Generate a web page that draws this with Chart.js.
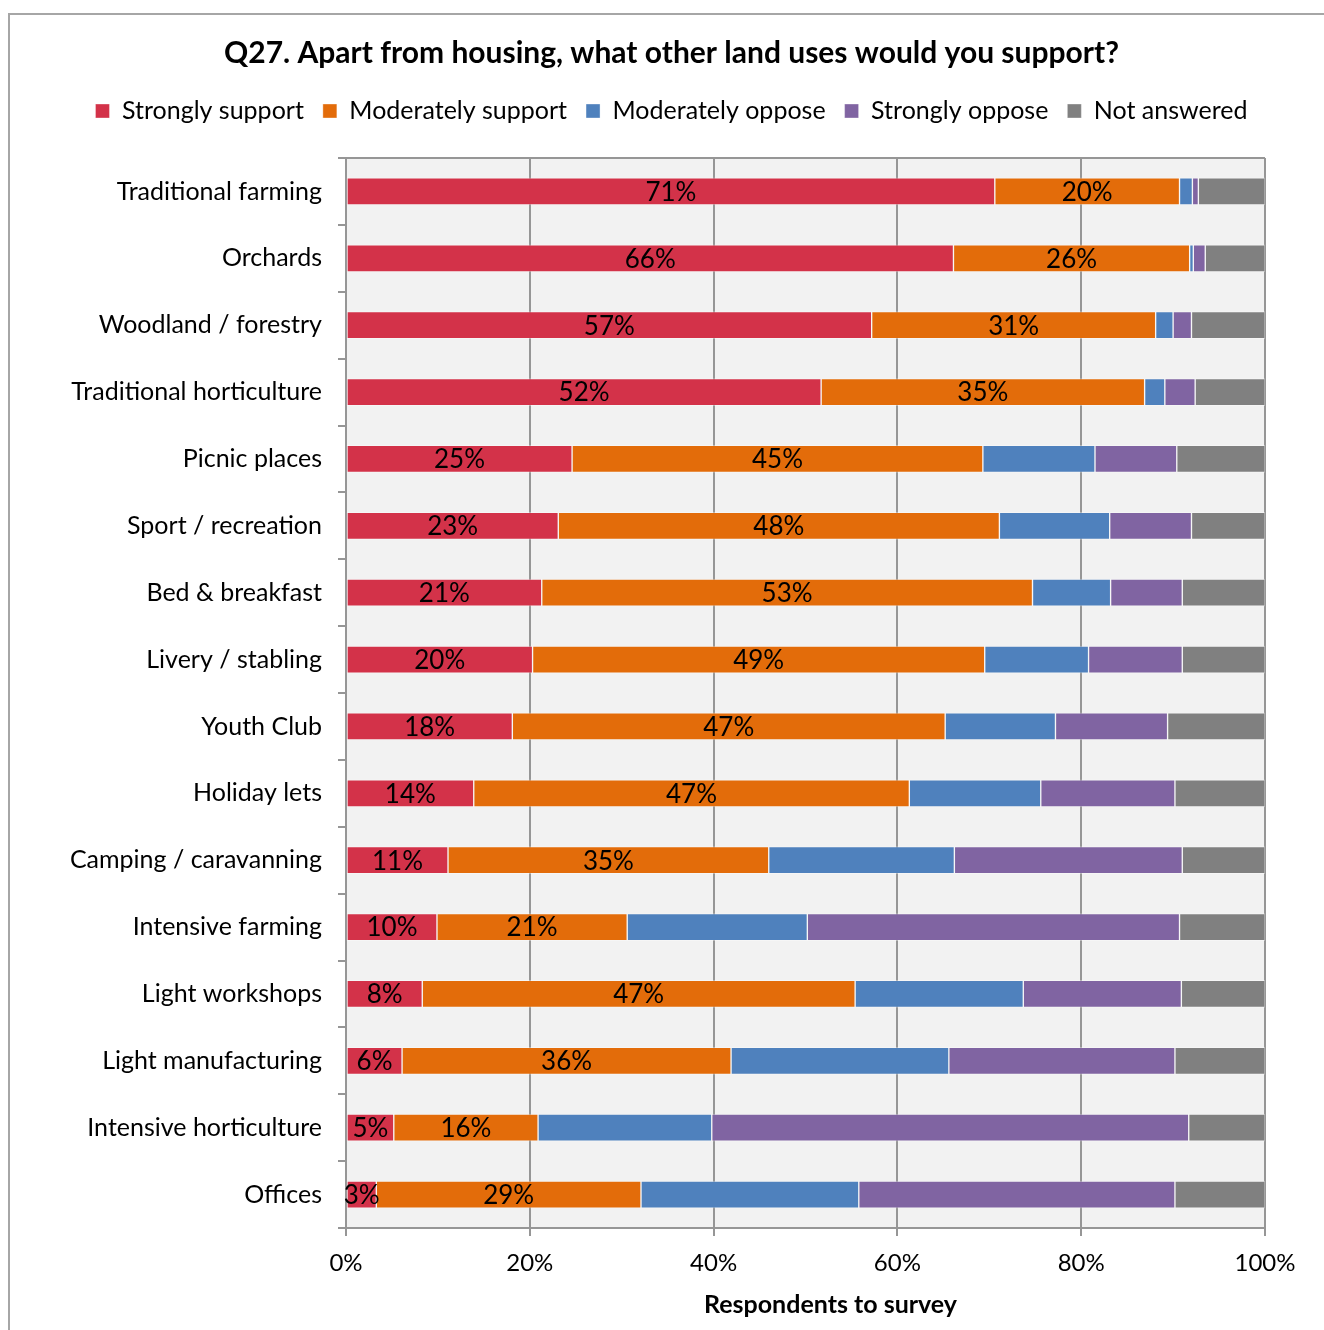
<!DOCTYPE html>
<html><head><meta charset="utf-8">
<script src="https://cdn.jsdelivr.net/npm/chart.js@4"></script>
<style>
html,body{margin:0;padding:0;background:#fff;overflow:hidden;width:1324px;height:1330px;}
#frame{position:absolute;left:8px;top:13px;width:1400px;height:1400px;border-left:2px solid #a6a6a6;border-top:2px solid #a6a6a6;box-sizing:border-box;}
#wrap{position:absolute;left:0;top:0;width:1340px;height:1330px;}
</style></head>
<body>
<div id="frame"></div>
<div id="wrap"><canvas id="c" width="1340" height="1330"></canvas></div>
<script>
const categories = ["Traditional farming","Orchards","Woodland / forestry","Traditional horticulture","Picnic places","Sport / recreation","Bed & breakfast","Livery / stabling","Youth Club","Holiday lets","Camping / caravanning","Intensive farming","Light workshops","Light manufacturing","Intensive horticulture","Offices"];
const seriesNames = ["Strongly support","Moderately support","Moderately oppose","Strongly oppose","Not answered"];
const stronglySupport   = [70.6,66.1,57.2,51.7,24.6,23.1,21.3,20.3,18.1,13.9,11.1,9.9,8.3,6.1,5.2,3.3];
const moderatelySupport = [20.1,25.7,30.9,35.2,44.7,48.0,53.4,49.2,47.1,47.4,34.9,20.7,47.1,35.8,15.7,28.8];
const moderatelyOppose  = [1.4,0.4,1.9,2.2,12.2,12.0,8.5,11.3,12.0,14.3,20.2,19.6,18.3,23.7,18.9,23.7];
const stronglyOppose    = [0.65,1.3,2.0,3.3,8.9,8.9,7.8,10.2,12.2,14.6,24.8,40.5,17.2,24.6,51.9,34.4];
const notAnswered       = [7.25,6.5,8.0,7.6,9.6,8.0,9.0,9.0,10.6,9.8,9.0,9.3,9.1,9.8,8.3,9.8];
const xTicks = [0,20,40,60,80,100];
const chartTitle = 'Q27. Apart from housing, what other land uses would you support?';
const xAxisTitle = 'Respondents to survey';
const colors = ["#D33249","#E36C0A","#4F81BD","#8064A2","#808080"];
const FONT = "Lato, 'Liberation Sans', sans-serif";

const plotBg = {
  id:'plotBg',
  beforeDraw(chart){
    const {ctx, chartArea:a} = chart;
    ctx.save();
    ctx.fillStyle = '#F2F2F2';
    ctx.fillRect(a.left, a.top, a.right-a.left, a.bottom-a.top);
    ctx.strokeStyle = '#969696';
    ctx.lineWidth = 2;
    ctx.beginPath();
    ctx.moveTo(a.left, a.top); ctx.lineTo(a.right, a.top);
    ctx.stroke();
    ctx.restore();
  }
};
const shiftHeader = {
  id:'shiftHeader',
  afterLayout(chart){
    const dx = 39;
    if (chart.titleBlock){ chart.titleBlock.left += dx; chart.titleBlock.right += dx; }
    if (chart.legend){ chart.legend.left += dx; chart.legend.right += dx; }
  }
};
const barLabels = {
  id:'barLabels',
  afterDatasetsDraw(chart){
    const ctx = chart.ctx;
    ctx.save();
    ctx.font = "26px " + FONT;
    ctx.fillStyle = '#000';
    ctx.textAlign = 'center';
    ctx.textBaseline = 'middle';
    [0,1].forEach(di=>{
      const meta = chart.getDatasetMeta(di);
      meta.data.forEach((el,i)=>{
        const v = chart.data.datasets[di].data[i];
        const cx = (el.x + el.base)/2;
        ctx.fillText(Math.round(v)+'%', cx, el.y+1);
      });
    });
    ctx.restore();
  }
};
const axisTitle = {
  id:'axisTitle',
  afterDraw(chart){
    const {ctx, chartArea:a} = chart;
    ctx.save();
    ctx.font = "bold 25px " + FONT;
    ctx.fillStyle = '#000';
    ctx.textAlign = 'center';
    ctx.textBaseline = 'middle';
    ctx.fillText(xAxisTitle, (a.left+a.right)/2 + 25, a.bottom + 77);
    ctx.restore();
  }
};

const data = [stronglySupport, moderatelySupport, moderatelyOppose, stronglyOppose, notAnswered];
new Chart(document.getElementById('c'), {
  type:'bar',
  data:{
    labels: categories,
    datasets: seriesNames.map((n,i)=>({
      label:n, data:data[i], backgroundColor:colors[i],
      borderColor:'rgba(255,255,255,0.35)', borderWidth:1, borderSkipped:false,
      barThickness:27
    }))
  },
  options:{
    indexAxis:'y',
    responsive:false,
    animation:false,
    layout:{padding:{left:0,right:75,top:0,bottom:0}},
    plugins:{
      title:{display:true, text:chartTitle,
        font:{family:FONT, size:30, weight:'bold'}, color:'#000', padding:{top:35,bottom:8.5}},
      legend:{display:true, position:'top',
        labels:{font:{family:FONT,size:25}, color:'#000', boxWidth:14, boxHeight:14, padding:19}},
      tooltip:{enabled:false}
    },
    scales:{
      x:{stacked:true, min:0, max:100,
        afterBuildTicks(s){ s.ticks = xTicks.map(v=>({value:v})); },
        ticks:{callback:v=>v+'%', font:{family:FONT,size:24}, color:'#000', padding:13},
        grid:{color:'#969696', lineWidth:2, tickLength:8, drawTicks:true},
        border:{display:true,color:'#969696',width:2},
        title:{display:false},
        afterFit(s){ s.height = 102; }
      },
      xTop:{position:'top', axis:'x', display:true,
        grid:{display:false, drawTicks:false}, ticks:{display:false},
        border:{display:false},
        afterFit(s){ s.height = 24.5; }
      },
      y:{stacked:true,
        ticks:{font:{family:FONT,size:25}, color:'#000', padding:16},
        grid:{drawOnChartArea:false, drawTicks:true, tickLength:8, color:'#969696', lineWidth:2},
        border:{display:true,color:'#969696',width:2},
        afterFit(s){ s.width = 346; }
      }
    }
  },
  plugins:[plotBg, shiftHeader, barLabels, axisTitle]
});
</script>
</body></html>
